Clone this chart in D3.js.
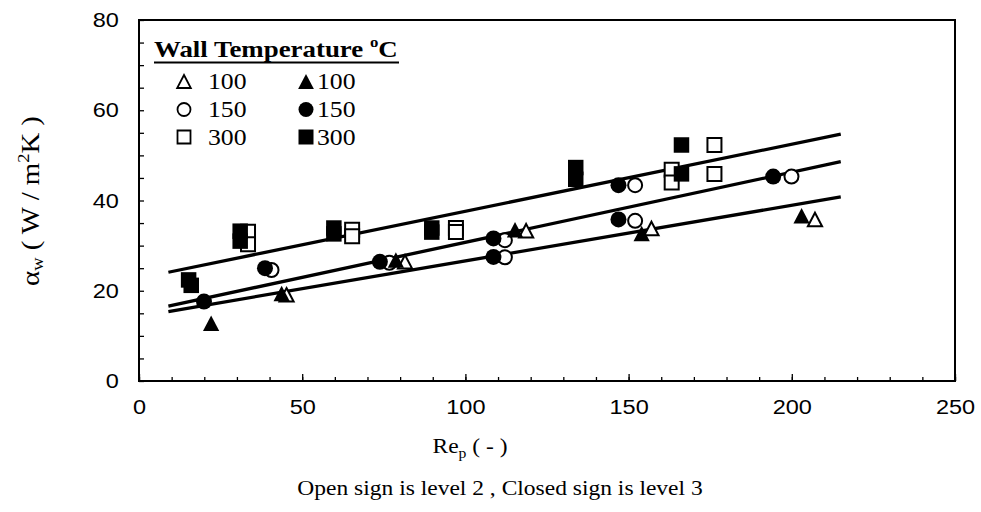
<!DOCTYPE html>
<html>
<head>
<meta charset="utf-8">
<script src="https://cdn.jsdelivr.net/npm/d3@7/dist/d3.min.js"></script>
<style>
  html, body { margin: 0; padding: 0; background: #fff; }
  svg { display: block; }
</style>
</head>
<body>
<svg id="chart" width="981" height="512"></svg>
<script>
// Wall heat transfer coefficient vs particle Reynolds number
// [Re_p, alpha_w] pairs; open = level 2, closed = level 3
const open100   = [[45.2,19.1],[81.5,26.4],[118.6,33.3],[157.0,33.8],[207.1,35.8]];
const closed100 = [[22.1,12.8],[43.7,19.4],[78.7,26.8],[115.2,33.5],[154.0,32.7],[203.0,36.6]];
const open150   = [[40.6,24.6],[76.7,26.2],[112.1,31.2],[112.1,27.4],[152.0,43.4],[152.0,35.5],[199.9,45.3]];
const closed150 = [[19.9,17.6],[38.6,25.0],[73.8,26.4],[108.6,31.6],[108.6,27.5],[146.9,43.4],[146.9,35.8],[194.3,45.3]];
const open300   = [[33.4,33.1],[33.4,30.3],[65.3,33.5],[65.3,32.1],[97.1,33.9],[97.1,33.0],[163.2,46.8],[163.2,44.0],[176.3,52.3],[176.3,45.9]];
const closed300 = [[15.2,22.4],[16.0,21.2],[31.0,33.2],[31.0,31.0],[59.7,33.9],[59.7,32.6],[89.7,33.9],[89.7,33.0],[133.8,47.3],[133.8,44.7],[166.2,52.3],[166.2,45.9]];

// Linear trend lines (start and end points)
const fit100 = [[9,15.4],[215,40.8]];
const fit150 = [[9,16.6],[215,48.6]];
const fit300 = [[9,24.1],[215,54.7]];

const xTicks = [0, 50, 100, 150, 200, 250];
const yTicks = [0, 20, 40, 60, 80];
const legendLabels = ["100", "150", "300"];

const svg = d3.select("#chart");
const plotL = 139, plotR = 955, plotT = 20, plotB = 381;
const sx = 1.12; // horizontal glyph widening used for all text

const x = d3.scaleLinear().domain([0, 250]).range([plotL, plotR]);
const y = d3.scaleLinear().domain([0, 80]).range([plotB, plotT]);

// custom triangle: bounding box centred at origin
const triType = {
  draw(ctx, size) {
    const w = Math.sqrt(size) * 1.05, h = w * 0.95;
    ctx.moveTo(0, -h / 2);
    ctx.lineTo(w / 2, h / 2);
    ctx.lineTo(-w / 2, h / 2);
    ctx.closePath();
  }
};
const sqType = {
  draw(ctx, size) {
    const s = Math.sqrt(size);
    ctx.rect(-s / 2, -s / 2, s, s);
  }
};
const circType = {
  draw(ctx, size) {
    const r = Math.sqrt(size) / 2;
    ctx.moveTo(r, 0);
    ctx.arc(0, 0, r, 0, 2 * Math.PI);
  }
};

const shapes = {
  tri:  { type: triType, size: 15.5 * 15.5, open: 13.5 * 13.5 },
  circ: { type: circType, size: 16 * 16, open: 14 * 14 },
  sq:   { type: sqType, size: 15.5 * 15.5, open: 14 * 14 }
};

// frame
svg.append("rect")
  .attr("x", plotL).attr("y", plotT)
  .attr("width", plotR - plotL).attr("height", plotB - plotT)
  .attr("fill", "none").attr("stroke", "#000").attr("stroke-width", 2);

const sans = "Liberation Sans, Arial, sans-serif";
const serif = "Liberation Serif, Times New Roman, serif";

// axes with inward ticks
const xMinor = d3.range(0, 251, 10);
svg.append("g")
  .attr("transform", `translate(0,${plotB})`)
  .call(d3.axisBottom(x).tickValues(xMinor).tickSize(-4).tickFormat(""))
  .call(g => g.select(".domain").remove())
  .call(g => g.selectAll("line").attr("stroke-width", 1.3));
svg.append("g")
  .attr("transform", `translate(0,${plotB})`)
  .call(d3.axisBottom(x).tickValues(xTicks).tickSize(-7).tickPadding(18).tickFormat(d3.format("d")))
  .call(g => g.select(".domain").remove())
  .call(g => g.selectAll("line").attr("stroke-width", 1.3))
  .call(g => g.selectAll("text").attr("font-family", sans)
        .attr("font-size", 21).attr("fill", "#000")
        .attr("transform", `scale(${sx},1)`));

const yMinor = d3.range(0, 81, 5);
svg.append("g")
  .attr("transform", `translate(${plotL},0)`)
  .call(d3.axisLeft(y).tickValues(yMinor).tickSize(-5).tickFormat(""))
  .call(g => g.select(".domain").remove())
  .call(g => g.selectAll("line").attr("stroke-width", 1.3));
svg.append("g")
  .attr("transform", `translate(${plotL},0)`)
  .call(d3.axisLeft(y).tickValues(yTicks).tickSize(0).tickPadding(18).tickFormat(d3.format("d")))
  .call(g => g.select(".domain").remove())
  .call(g => g.selectAll("text").attr("font-family", sans)
        .attr("font-size", 21).attr("fill", "#000")
        .attr("transform", `scale(${sx},1)`));

// trend lines
const line = d3.line().x(d => x(d[0])).y(d => y(d[1]));
[fit100, fit150, fit300].forEach(f => {
  svg.append("path").attr("d", line(f))
    .attr("fill", "none").attr("stroke", "#000").attr("stroke-width", 3.3);
});

function drawSeries(data, shape, filled) {
  const sh = shapes[shape];
  const sym = d3.symbol().type(sh.type).size(filled ? sh.size : sh.open);
  svg.append("g").selectAll("path").data(data).join("path")
    .attr("transform", d => `translate(${x(d[0])},${y(d[1])})`)
    .attr("d", sym)
    .attr("fill", filled ? "#000" : "#fff")
    .attr("stroke", "#000")
    .attr("stroke-width", filled ? 0 : 2);
}

// open markers first, closed on top
drawSeries(open100, "tri", false);
drawSeries(open150, "circ", false);
drawSeries(open300, "sq", false);
drawSeries(closed100, "tri", true);
drawSeries(closed150, "circ", true);
drawSeries(closed300, "sq", true);

// text placed at (tx, ty) with horizontal widening
function wideText(tx, ty, anchor) {
  return svg.append("g").attr("transform", `translate(${tx},${ty}) scale(${sx},1)`)
    .append("text").attr("text-anchor", anchor || "start");
}

// legend
const title = wideText(154, 57).attr("font-family", serif).attr("font-size", 24).attr("font-weight", "bold");
title.append("tspan").text("Wall Temperature ");
title.append("tspan").attr("font-size", 15).attr("dy", -10).text("o");
title.append("tspan").attr("dy", 10).text("C");
svg.append("line").attr("x1", 154).attr("x2", 399).attr("y1", 62.5).attr("y2", 62.5)
  .attr("stroke", "#000").attr("stroke-width", 2);

const legShapes = ["tri", "circ", "sq"];
const rowY = [81.5, 109.5, 137];
legendLabels.forEach((lab, i) => {
  const sh = shapes[legShapes[i]];
  svg.append("path")
    .attr("transform", `translate(184,${rowY[i]})`)
    .attr("d", d3.symbol().type(sh.type).size(13 * 13)())
    .attr("fill", "#fff").attr("stroke", "#000").attr("stroke-width", 1.8);
  wideText(208, rowY[i] + 7.5).attr("font-family", serif).attr("font-size", 23).text(lab);
  svg.append("path")
    .attr("transform", `translate(306,${rowY[i]})`)
    .attr("d", d3.symbol().type(sh.type).size(15 * 15)())
    .attr("fill", "#000");
  wideText(317, rowY[i] + 7.5).attr("font-family", serif).attr("font-size", 23).text(lab);
});

// axis titles
const yl = svg.append("text")
  .attr("transform", "translate(39,201) rotate(-90) scale(1.15,1)")
  .attr("text-anchor", "middle")
  .attr("font-family", serif).attr("font-size", 25);
yl.append("tspan").text("α");
yl.append("tspan").attr("font-size", 16).attr("dy", 4).text("w");
yl.append("tspan").attr("dy", -4).text("  ( W / m");
yl.append("tspan").attr("font-size", 16).attr("dy", -10).text("2");
yl.append("tspan").attr("dy", 10).text("K )");

const xl = wideText(470, 453, "middle").attr("font-family", serif).attr("font-size", 21);
xl.append("tspan").text("Re");
xl.append("tspan").attr("font-size", 14).attr("dy", 5).text("p");
xl.append("tspan").attr("dy", -5).text(" ( - )");

wideText(500, 495, "middle").attr("font-family", serif).attr("font-size", 21)
  .text("Open sign is level 2 ,  Closed sign is level 3");
</script>
</body>
</html>
